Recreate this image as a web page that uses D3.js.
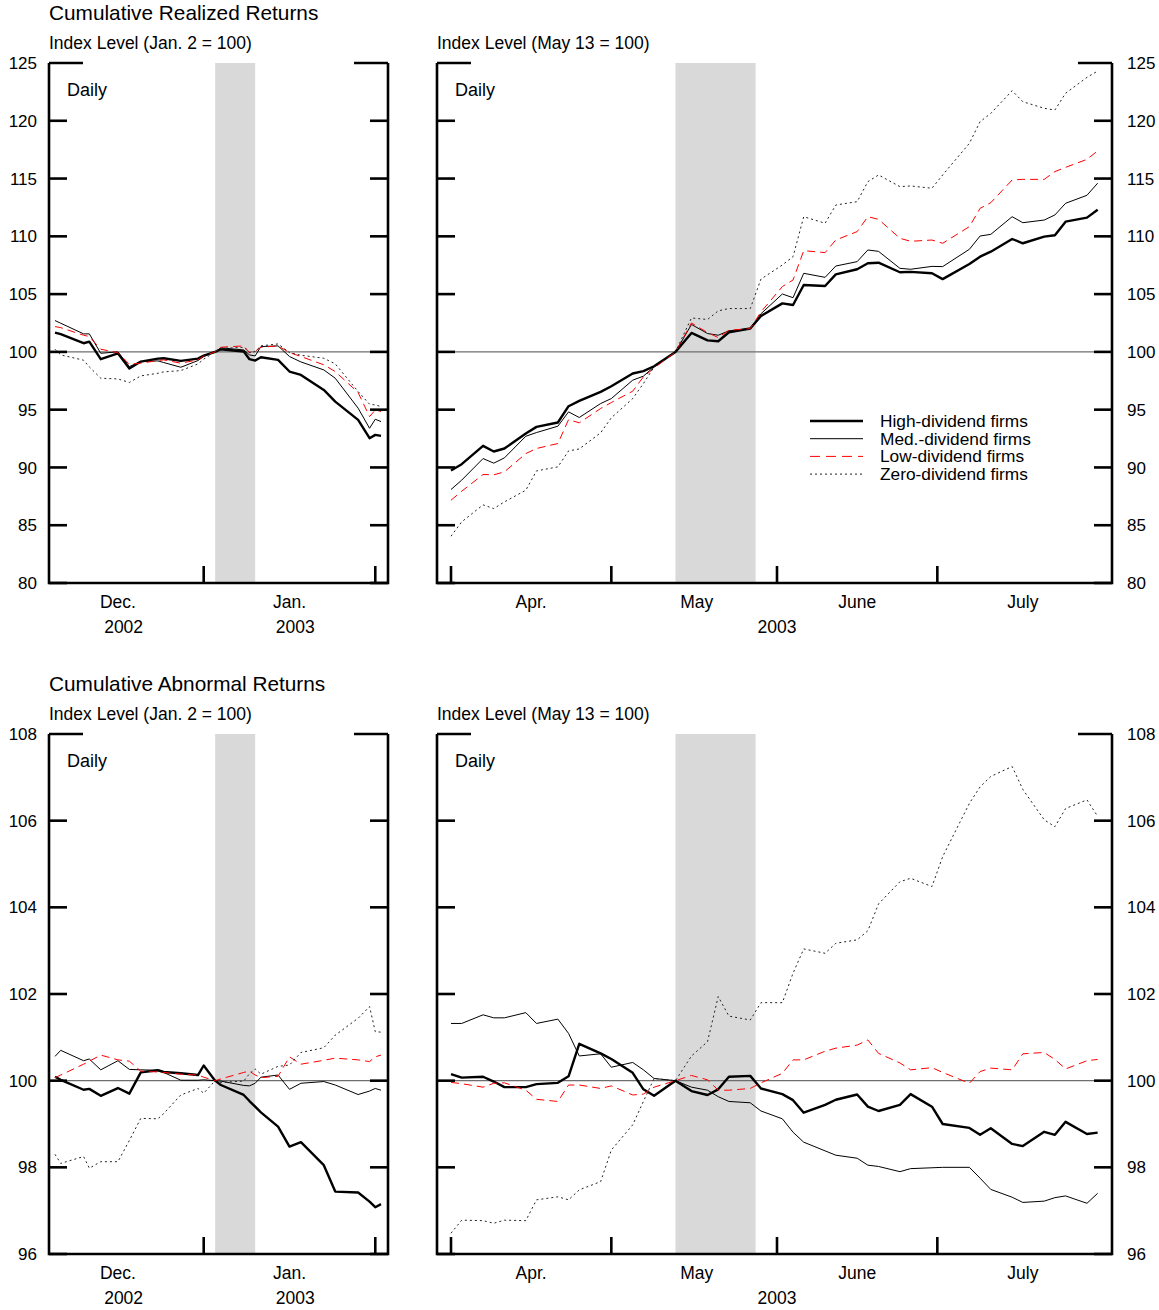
<!DOCTYPE html>
<html>
<head>
<meta charset="utf-8">
<script src="https://cdn.jsdelivr.net/npm/d3@7"></script>
<style>
body { margin: 0; background: #fff; }
text { font-family: "Liberation Sans", Arial, sans-serif; fill: #000; }
</style>
</head>
<body>
<div id="main_div"></div>
<script>
// ---- data ----
var leftDates = ["2002-12-05","2002-12-06","2002-12-10","2002-12-11","2002-12-13","2002-12-16","2002-12-18",
  "2002-12-20","2002-12-23","2002-12-24","2002-12-27","2002-12-30","2002-12-31","2003-01-02","2003-01-03",
  "2003-01-07","2003-01-08","2003-01-09","2003-01-10","2003-01-13","2003-01-15","2003-01-17","2003-01-21",
  "2003-01-23","2003-01-27","2003-01-29","2003-01-30","2003-01-31"];

var rightDates = ["2003-04-01","2003-04-03","2003-04-07","2003-04-09","2003-04-11","2003-04-15","2003-04-17",
  "2003-04-21","2003-04-23","2003-04-25","2003-04-29","2003-05-01","2003-05-05","2003-05-07","2003-05-09",
  "2003-05-13","2003-05-16","2003-05-19","2003-05-21","2003-05-23","2003-05-27","2003-05-29","2003-06-02",
  "2003-06-04","2003-06-06","2003-06-10","2003-06-12","2003-06-16","2003-06-18","2003-06-20","2003-06-24",
  "2003-06-26","2003-06-30","2003-07-02","2003-07-07","2003-07-09","2003-07-11","2003-07-15","2003-07-17",
  "2003-07-21","2003-07-23","2003-07-25","2003-07-29","2003-07-31"];

// realized returns, Dec-Jan window
var rlHigh = [101.67,101.53,100.75,100.89,99.37,99.88,98.56,99.16,99.42,99.45,99.22,99.42,99.68,100,100.23,100.03,99.37,99.25,99.54,99.31,98.3,98.01,96.71,95.7,94.12,92.53,92.82,92.73];
var rlMed  = [102.71,102.48,101.56,101.56,99.88,100.0,98.73,99.16,99.22,99.08,98.67,99.25,99.6,100,100.35,100.17,99.74,99.65,100.46,100.52,99.6,99.13,98.44,97.72,95.13,93.39,94.17,93.97];
var rlLow  = [102.19,102.1,101.44,101.33,100.23,99.94,98.93,99.02,99.25,99.31,99.02,99.31,99.65,100,100.4,100.52,99.94,100.06,100.4,100.52,99.94,99.6,98.88,98.3,96.48,94.4,94.98,94.84];
var rlZero = [100.23,99.74,99.28,98.7,97.72,97.66,97.35,97.92,98.15,98.27,98.38,98.96,99.37,100,100.29,100.4,99.94,100.03,100.52,100.69,99.94,99.71,99.45,98.96,96.57,95.47,95.41,95.27];

// realized returns, Apr-Jul window
var rrHigh = [89.73,90.28,91.87,91.38,91.64,92.93,93.51,93.89,95.3,95.76,96.54,
  97.03,98.13,98.33,98.76,100,101.64,101.0,100.92,101.7,102.02,103.1,
  104.2,104.06,105.79,105.7,106.71,107.15,107.67,107.72,106.89,106.92,106.8,
  106.3,107.6,108.24,108.67,109.77,109.4,109.97,110.09,111.27,111.62,112.3];
var rrMed  = [88.09,88.9,90.77,90.37,90.83,92.7,93.02,93.57,94.81,94.32,95.53,
  95.96,97.55,97.9,98.7,100,102.37,101.59,101.44,101.82,102.02,103.3,
  105.01,104.69,106.8,106.45,107.43,107.81,108.82,108.7,107.23,107.15,107.4,
  107.38,108.88,110.03,110.17,111.7,111.18,111.41,111.85,112.86,113.55,114.6];
var rrLow  = [87.16,87.94,89.39,89.36,89.62,91.2,91.64,92.07,94.14,93.86,95.1,
  95.62,96.6,97.84,98.59,100,102.5,101.67,101.24,101.87,102.02,103.46,
  105.65,106.22,108.76,108.59,109.68,110.41,111.7,111.47,109.83,109.57,109.68,
  109.4,110.84,112.42,112.91,114.88,114.93,114.93,115.6,115.97,116.66,117.4];
var rrZero = [84.05,85.29,86.76,86.44,87.02,88.03,89.7,90.05,91.43,91.6,93.0,
  94.3,95.96,97.26,98.7,100,102.94,102.8,103.55,103.75,103.75,106.3,
  107.52,108.24,111.7,111.13,112.71,113.0,114.73,115.31,114.3,114.36,114.16,
  115.31,118.05,119.92,120.64,122.6,121.65,121.08,120.93,122.38,123.76,124.3];

// abnormal returns, Dec-Jan window
var alHigh = [100.09,100.02,99.79,99.81,99.65,99.83,99.7,100.19,100.24,100.2,100.17,100.13,100.35,100,99.9,99.67,99.53,99.4,99.27,98.94,98.48,98.58,98.05,97.44,97.42,97.21,97.08,97.15];
var alMed  = [100.56,100.7,100.46,100.5,100.25,100.46,100.26,100.25,100.24,100.19,100.01,100.01,100.02,100,99.99,99.89,99.88,99.94,100.08,100.13,99.8,99.94,99.98,99.9,99.68,99.76,99.82,99.78];
var alLow  = [100.07,100.13,100.38,100.45,100.59,100.48,100.45,100.22,100.2,100.19,100.15,100.13,100.08,100,100.04,100.19,100.22,100.13,100.07,100.1,100.55,100.38,100.47,100.52,100.48,100.44,100.55,100.59];
var alZero = [98.3,98.09,98.25,97.98,98.13,98.13,98.62,99.13,99.12,99.24,99.67,99.82,99.71,100,99.96,99.99,100.16,100.27,100.15,100.33,100.36,100.65,100.76,101.05,101.44,101.71,101.13,101.12];

// abnormal returns, Apr-Jul window
var arHigh = [100.15,100.07,100.09,99.98,99.85,99.85,99.92,99.95,100.1,100.85,100.63,
  100.5,100.18,99.8,99.65,100,99.76,99.67,99.8,100.09,100.11,99.82,
  99.69,99.55,99.26,99.44,99.56,99.68,99.4,99.3,99.44,99.69,99.4,
  99.0,98.91,98.75,98.9,98.54,98.49,98.82,98.75,99.05,98.77,98.8];
var arMed  = [101.32,101.32,101.52,101.45,101.45,101.57,101.32,101.42,101.09,100.57,100.62,
  100.31,100.42,100.25,100.05,100,99.85,99.78,99.63,99.52,99.49,99.3,
  99.12,98.81,98.58,98.38,98.28,98.21,98.05,98.02,97.9,97.97,97.99,
  98.0,98.0,97.75,97.49,97.31,97.19,97.22,97.3,97.34,97.17,97.4];
var arLow  = [99.96,99.93,99.85,99.94,99.95,99.78,99.57,99.52,99.9,99.9,99.82,
  99.88,99.67,99.69,99.85,100,100.12,100.02,99.78,99.78,99.82,99.95,
  100.17,100.48,100.48,100.68,100.75,100.82,100.94,100.63,100.41,100.25,100.3,
  100.19,99.94,100.21,100.29,100.25,100.62,100.65,100.49,100.27,100.46,100.49];
var arZero = [96.48,96.78,96.77,96.71,96.78,96.77,97.25,97.32,97.25,97.48,97.67,
  98.4,98.98,99.52,100.05,100,100.57,100.9,101.94,101.49,101.4,101.8,
  101.8,102.48,103.04,102.94,103.17,103.25,103.46,104.08,104.59,104.67,104.48,
  105.17,106.4,106.78,107.02,107.25,106.72,106.02,105.86,106.28,106.48,106.1];

var realizedTicks = [80, 85, 90, 95, 100, 105, 110, 115, 120, 125];
var abnormalTicks = [96, 98, 100, 102, 104, 106, 108];

var leftBand = ["2003-01-02", "2003-01-09"];
var rightBand = ["2003-05-13", "2003-05-28"];
var leftMonthTicks = ["2002-12-31", "2003-01-30"];
var rightMonthTicks = ["2003-04-01", "2003-05-01", "2003-06-01", "2003-07-01"];
var leftMonthLabels = [["2002-12-16", "Dec."], ["2003-01-15", "Jan."]];
var leftYearLabels = [["2002-12-17", "2002"], ["2003-01-16", "2003"]];
var rightMonthLabels = [["2003-04-16", "Apr."], ["2003-05-17", "May"], ["2003-06-16", "June"], ["2003-07-17", "July"]];
var rightYearLabels = [["2003-06-01", "2003"]];

var seriesNames = ["High-dividend firms", "Med.-dividend firms", "Low-dividend firms", "Zero-dividend firms"];

// ---- styles ----
var lineStyles = [
  {stroke: "#000", width: 2.4, dash: null},
  {stroke: "#000", width: 1, dash: null},
  {stroke: "#ff0000", width: 1, dash: "8,5"},
  {stroke: "#222", width: 1, dash: "2,3"}
];

var parse = d3.timeParse("%Y-%m-%d");

var svg = d3.select("#main_div").append("svg").attr("width", 1159).attr("height", 1310);

var x_left = d3.scaleTime().domain([parse("2002-12-05"), parse("2003-01-31")]).range([55, 381]);
var x_right = d3.scaleTime().domain([parse("2003-04-01"), parse("2003-08-01")]).range([451, 1103]);
var y_top = d3.scaleLinear().domain([80, 125]).range([583, 63]);
var y_bot = d3.scaleLinear().domain([96, 108]).range([1254, 734]);

function drawPanel(p) {
  var g = svg.append("g");
  var yTop = p.y.range()[1], yBottom = p.y.range()[0];

  // shaded window
  g.append("rect")
    .attr("x", p.x(parse(p.band[0])))
    .attr("y", yTop)
    .attr("width", p.x(parse(p.band[1])) - p.x(parse(p.band[0])))
    .attr("height", yBottom - yTop)
    .attr("fill", "#d9d9d9");

  // reference line at 100
  g.append("line")
    .attr("x1", p.x0).attr("x2", p.x1)
    .attr("y1", p.y(100)).attr("y2", p.y(100))
    .attr("stroke", "#6e6e6e").attr("stroke-width", 1.4);

  var dates = p.dates.map(parse);
  p.series.forEach(function(vals, i) {
    var st = lineStyles[i];
    var line = d3.line()
      .x(function(d, j) { return p.x(dates[j]); })
      .y(function(d) { return p.y(d); });
    g.append("path")
      .datum(vals)
      .attr("d", line)
      .attr("fill", "none")
      .attr("stroke", st.stroke)
      .attr("stroke-width", st.width)
      .attr("stroke-dasharray", st.dash)
      .attr("stroke-linejoin", "round");
  });

  // frame: left, right, bottom
  var frame = g.append("g").attr("stroke", "#000").attr("stroke-width", 2.6).attr("fill", "none");
  frame.append("path").attr("d",
    "M" + p.x0 + "," + yTop + "V" + yBottom + "H" + p.x1 + "V" + yTop);

  // y ticks on both sides
  p.yTicks.forEach(function(t, i) {
    var len = (i === p.yTicks.length - 1) ? 34 : 18;
    frame.append("line").attr("x1", p.x0).attr("x2", p.x0 + len).attr("y1", p.y(t)).attr("y2", p.y(t));
    frame.append("line").attr("x1", p.x1 - len).attr("x2", p.x1).attr("y1", p.y(t)).attr("y2", p.y(t));
  });

  // x ticks
  p.xTicks.forEach(function(t) {
    var xx = p.x(parse(t));
    frame.append("line").attr("x1", xx).attr("x2", xx).attr("y1", yBottom).attr("y2", yBottom - 17);
  });

  // y tick labels
  g.selectAll(".ylab").data(p.yTicks).enter().append("text")
    .attr("x", p.labelSide === "left" ? p.x0 - 12 : p.x1 + 15)
    .attr("y", function(d) { return p.y(d); })
    .attr("dy", "0.36em")
    .attr("text-anchor", p.labelSide === "left" ? "end" : "start")
    .attr("font-size", 17)
    .text(function(d) { return d; });

  // x labels
  g.selectAll(".mlab").data(p.monthLabels).enter().append("text")
    .attr("x", function(d) { return p.x(parse(d[0])); })
    .attr("y", yBottom + 25)
    .attr("text-anchor", "middle").attr("font-size", 17.5)
    .text(function(d) { return d[1]; });
  g.selectAll(".ylab2").data(p.yearLabels).enter().append("text")
    .attr("x", function(d) { return p.x(parse(d[0])); })
    .attr("y", yBottom + 50)
    .attr("text-anchor", "middle").attr("font-size", 17.5)
    .text(function(d) { return d[1]; });

  // captions
  g.append("text").attr("x", p.x0 + 18).attr("y", yTop + 33).attr("font-size", 18).text("Daily");
  g.append("text").attr("x", p.x0).attr("y", yTop - 14).attr("font-size", 17.5).text(p.indexLabel);
}

svg.append("text").attr("x", 49).attr("y", 20).attr("font-size", 20.8).text("Cumulative Realized Returns");
svg.append("text").attr("x", 49).attr("y", 691).attr("font-size", 20.8).text("Cumulative Abnormal Returns");

drawPanel({x: x_left, y: y_top, x0: 49, x1: 388, dates: leftDates, series: [rlHigh, rlMed, rlLow, rlZero],
  band: leftBand, yTicks: realizedTicks, labelSide: "left", xTicks: leftMonthTicks,
  monthLabels: leftMonthLabels, yearLabels: leftYearLabels, indexLabel: "Index Level (Jan. 2 = 100)"});
drawPanel({x: x_right, y: y_top, x0: 437, x1: 1112, dates: rightDates, series: [rrHigh, rrMed, rrLow, rrZero],
  band: rightBand, yTicks: realizedTicks, labelSide: "right", xTicks: rightMonthTicks,
  monthLabels: rightMonthLabels, yearLabels: rightYearLabels, indexLabel: "Index Level (May 13 = 100)"});
drawPanel({x: x_left, y: y_bot, x0: 49, x1: 388, dates: leftDates, series: [alHigh, alMed, alLow, alZero],
  band: leftBand, yTicks: abnormalTicks, labelSide: "left", xTicks: leftMonthTicks,
  monthLabels: leftMonthLabels, yearLabels: leftYearLabels, indexLabel: "Index Level (Jan. 2 = 100)"});
drawPanel({x: x_right, y: y_bot, x0: 437, x1: 1112, dates: rightDates, series: [arHigh, arMed, arLow, arZero],
  band: rightBand, yTicks: abnormalTicks, labelSide: "right", xTicks: rightMonthTicks,
  monthLabels: rightMonthLabels, yearLabels: rightYearLabels, indexLabel: "Index Level (May 13 = 100)"});

// legend
var legend = svg.append("g").attr("transform", "translate(810,421)");
seriesNames.forEach(function(name, i) {
  var st = lineStyles[i];
  legend.append("line")
    .attr("x1", 0).attr("x2", 53).attr("y1", i * 17.7).attr("y2", i * 17.7)
    .attr("stroke", st.stroke).attr("stroke-width", st.width)
    .attr("stroke-dasharray", st.dash === "8,5" ? "10,6" : st.dash);
  legend.append("text")
    .attr("x", 70).attr("y", i * 17.7).attr("dy", "0.35em")
    .attr("font-size", 17.3).text(name);
});
</script>
</body>
</html>
